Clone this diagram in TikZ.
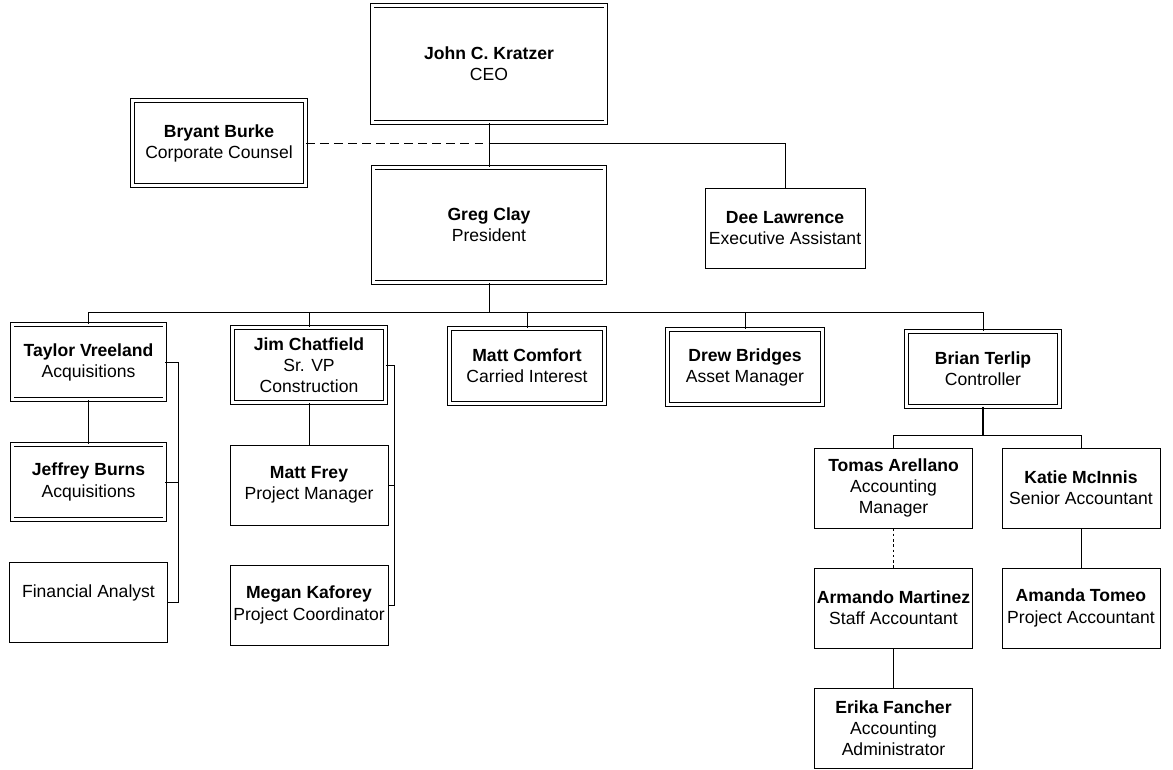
\documentclass[tikz,border=0pt]{standalone}
\usepackage{fontspec}
\setmainfont{Liberation Sans}
\usetikzlibrary{positioning,calc}

\begin{document}
\begin{tikzpicture}[x=0.02cm,y=-0.02cm,node distance=2.4cm,on grid,
   font=\fontsize{10}{12}\selectfont,
   box/.style={draw,line width=0.5pt,align=center,minimum width=3.16cm,minimum height=1.6cm,inner sep=1pt},
   dbox/.style={box,line width=0.45pt,double,double distance=1.7pt,minimum width=3.06cm,minimum height=1.5cm},
   link/.style={line width=0.5pt},
   dashlink/.style={link,dash pattern=on 5pt off 3pt},
   dotlink/.style={link,dash pattern=on 1.5pt off 1.5pt}]
  \useasboundingbox (0,0) rectangle (1173,769);
  % top of the chart
  \node[dbox,minimum width=4.68cm,minimum height=2.34cm] (ceo) at (489,64) {\textbf{John C. Kratzer}\\CEO};
  \node[dbox,minimum width=4.64cm,minimum height=2.3cm] (greg) at (489,225) {\textbf{Greg Clay}\\President};
  \node[dbox,minimum width=3.46cm,minimum height=1.7cm] (bryant) at (219,143) {\textbf{Bryant Burke}\\Corporate Counsel};
  \node[box,minimum width=3.2cm] (dee) at (785,228) {\textbf{Dee Lawrence}\\Executive Assistant};
  % second row
  \node[dbox] (taylor) at (88.5,362) {\textbf{Taylor Vreeland}\\Acquisitions};
  \node[dbox] (jim) at (309,365) {\textbf{Jim Chatfield}\\Sr. VP\\Construction};
  \node[dbox,minimum width=3.1cm] (mattc) at (527,366) {\textbf{Matt Comfort}\\Carried Interest};
  \node[dbox,minimum width=3.1cm] (drew) at (745,367) {\textbf{Drew Bridges}\\Asset Manager};
  \node[dbox] (brian) at (983,369) {\textbf{Brian Terlip}\\Controller};
  % under them
  \node[dbox] (jeffrey) [below=of taylor] {\textbf{Jeffrey Burns}\\Acquisitions};
  \node[box] (fin) [below=of jeffrey] {Financial Analyst\\\mbox{}};
  \node[box] (mattf) [below=of jim] {\textbf{Matt Frey}\\Project Manager};
  \node[box] (megan) [below=of mattf] {\textbf{Megan Kaforey}\\Project Coordinator};
  \node[box] (tomas) at (893.5,488) {\textbf{Tomas Arellano}\\Accounting\\Manager};
  \node[box] (katie) [right=3.75cm of tomas] {\textbf{Katie McInnis}\\Senior Accountant};
  \node[box] (armando) [below=of tomas] {\textbf{Armando Martinez}\\Staff Accountant};
  \node[box] (erika) [below=of armando] {\textbf{Erika Fancher}\\Accounting\\Administrator};
  \node[box] (amanda) [below=of katie] {\textbf{Amanda Tomeo}\\Project Accountant};

  \coordinate (split) at (ceo.south |- bryant.east);
  \coordinate (bus) at ($(greg.south)+(0,30)$);
  \coordinate (sub) at ($(brian.south)+(0,29)$);
  \draw[link] (ceo) -- (greg);
  \draw[dashlink] (bryant) -- (split);
  \draw[link] (split) -| (dee);
  \draw[link] (greg) -- (bus);
  \foreach \n in {taylor,jim,mattc,drew,brian}
    \draw[link] (bus) -| (\n);
  \draw[link] (taylor) -- (jeffrey);
  \draw[link] (jim) -- (mattf);
  \draw[link] (taylor.east) -- ++(13,0) coordinate (tbar) |- (fin.east);
  \draw[link] (jeffrey.east) -- (jeffrey.east -| tbar);
  \draw[link] (jim.east) -- ++(9,0) coordinate (jbar) |- (megan.east);
  \draw[link] (mattf.east) -- (mattf.east -| jbar);
  \draw[link,line width=1pt] (brian) -- (sub);
  \draw[link] (sub) -| (tomas);
  \draw[link] (sub) -| (katie);
  \draw[dotlink] (tomas) -- (armando);
  \draw[link] (armando) -- (erika);
  \draw[link] (katie) -- (amanda);
\end{tikzpicture}
\end{document}
